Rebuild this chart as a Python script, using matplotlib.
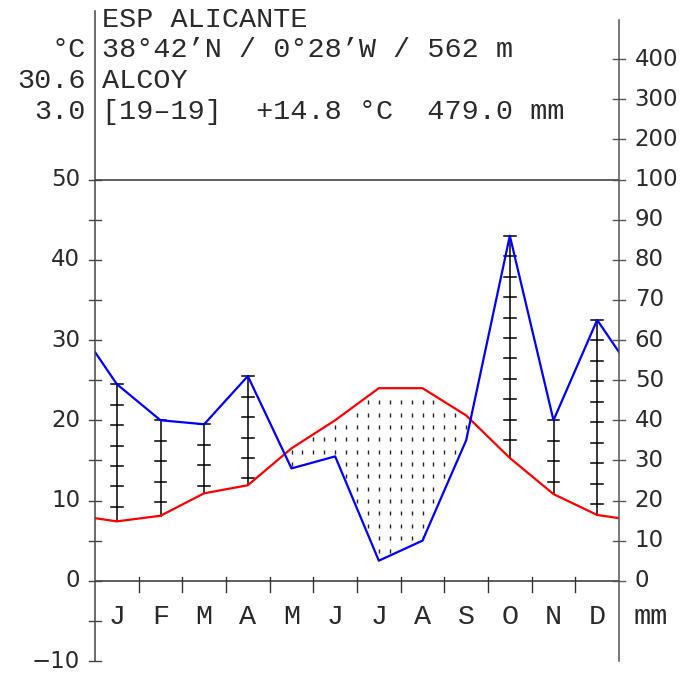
import numpy as np
import matplotlib
matplotlib.use("Agg")
import matplotlib.pyplot as plt

# Walter-Lieth climate diagram, Alcoy (Alicante)
months = ["J", "F", "M", "A", "M", "J", "J", "A", "S", "O", "N", "D"]
temp = [7.4, 8.1, 10.9, 11.9, 16.5, 20.0, 24.0, 24.0, 20.6, 15.3, 10.8, 8.2]
prec = [49, 40, 39, 51, 28, 31, 5, 10, 35, 86, 40, 65]
header = ["ESP ALICANTE", "38°42\u2019N / 0°28\u2019W / 562 m", "ALCOY",
          "[19\u201319]  +14.8 °C  479.0 mm"]
side = ["°C", "30.6", "3.0"]
temp_ticks = [50, 40, 30, 20, 10, 0, -10]
prec_ticks = [0, 10, 20, 30, 40, 50, 60, 70, 80, 90, 100, 200, 300, 400]

W, H = 688, 673
mono = "Liberation Mono"
sans = "DejaVu Sans"
txt = "#2a2a2a"


def p2t(p):
    p = np.asarray(p, dtype=float)
    return np.where(p <= 100, p / 2, 50 + (p - 100) / 20)


fig = plt.figure(figsize=(W / 100, H / 100), dpi=100)
ax = fig.add_axes([95 / W, 12 / H, 524 / W, 650 / H])
ax.set_xlim(0, 12)
ax.set_ylim(-10, 71)
ax.axis("off")

# curves, wrapped at both ends
xc = np.arange(12) + 0.5
xs = np.concatenate([[0], xc, [12]])
t_edge = (temp[0] + temp[-1]) / 2
p_edge = (prec[0] + prec[-1]) / 2
ts = np.concatenate([[t_edge], temp, [t_edge]])
ps = p2t(np.concatenate([[p_edge], prec, [p_edge]]))

# arid period dots
gx = np.arange(0, 12.01, 0.25)
gy = 3.77 + np.arange(0, 20) * 1.54
GX, GY = np.meshgrid(gx, gy)
lo = np.interp(GX, xs, ps)
hi = np.interp(GX, xs, ts)
m = (GY > lo + 0.3) & (GY < hi - 0.3)
ax.plot(GX[m], GY[m], ls="none", marker="|", ms=3, mew=1.0, color="#222222")

# humid period lines with ticks
hw = 0.13
step = 2.55
for i in range(12):
    top = float(p2t(prec[i]))
    if top > temp[i]:
        ax.plot([xc[i], xc[i]], [temp[i], top], color="black", lw=1.1)
        y = top
        while y > temp[i]:
            ax.plot([xc[i] - hw, xc[i] + hw], [y, y], color="black", lw=1.1)
            y -= step

ax.plot(xs, ts, color="#ff0000", lw=1.6)
ax.plot(xs, ps, color="#0000ff", lw=1.6)

# frame
ax.plot([0, 0], [-10, 71], color="#444444", lw=1.1, clip_on=False)
ax.plot([12, 12], [-10, 69.9], color="#555555", lw=1.1, clip_on=False)
ax.plot([0, 12], [0, 0], color="#333333", lw=1.1)
ax.plot([0, 12], [50, 50], color="#333333", lw=1.1)

tk = 0.14
for v in range(-10, 51, 5):
    ax.plot([-tk, tk], [v, v], color="#444444", lw=1.0, clip_on=False)
for v in temp_ticks:
    ax.text(-0.34, v, "\u2212" + str(-v) if v < 0 else str(v), ha="right",
            va="center", fontsize=16.5, family=sans, color=txt)
for v in prec_ticks:
    y = float(p2t(v))
    ax.plot([12 - tk, 12 + tk], [y, y], color="#555555", lw=1.0, clip_on=False)
    ax.text(12.36, y, str(v), ha="left", va="center", fontsize=16.5,
            family=sans, color=txt)

for b in range(1, 12):
    ax.plot([b, b], [-1.4, 0.5], color="#333333", lw=1.0)
for i, lab in enumerate(months):
    ax.text(xc[i], -4.5, lab, ha="center", va="center", fontsize=20.5,
            family=mono, color=txt)
ax.text(12.72, -4.5, "mm", ha="center", va="center", fontsize=20.5,
        family=mono, color=txt)

# header text
rows = [20, 50, 81, 112]
for r, s in zip(rows, header):
    fig.text(102 / W, 1 - r / H, s, ha="left", va="center", fontsize=20.5,
             family=mono, color=txt)
for r, s in zip(rows[1:], side):
    fig.text(86 / W, 1 - r / H, s, ha="right", va="center", fontsize=20.5,
             family=mono, color=txt)

fig.savefig("out.png", dpi=100)
